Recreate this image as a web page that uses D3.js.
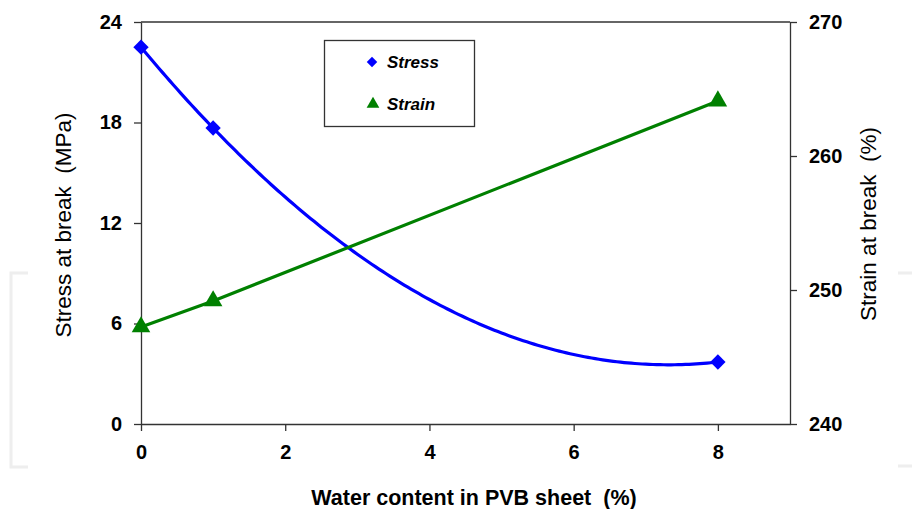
<!DOCTYPE html>
<html><head><meta charset="utf-8">
<script src="https://cdn.jsdelivr.net/npm/d3@7"></script>
<style>body{margin:0;background:#fff}svg{display:block}text{font-family:"Liberation Sans",Arial,sans-serif;white-space:pre}</style>
</head><body><svg id="c" width="912" height="509"></svg>
<script>
const water = [0, 1, 8];
const stress = [22.5, 17.67, 3.70];
const strain = [247.24, 249.18, 264.1];
const xTicks = [0, 2, 4, 6, 8];
const stressTicks = [0, 6, 12, 18, 24];
const strainTicks = [240, 250, 260, 270];
const seriesNames = ["Stress", "Strain"];

const svg = d3.select("#c");
const L = 141, R = 790, T = 22, B = 424;
const x = d3.scaleLinear().domain([0, 9]).range([L, R]);
const yL = d3.scaleLinear().domain([0, 24]).range([B, T]);
const yR = d3.scaleLinear().domain([240, 270]).range([B, T]);

// faint background bracket decoration
const faint = svg.append("g").attr("stroke", "#eeeeee").attr("stroke-width", 3).attr("fill", "none");
faint.append("path").attr("d", "M28,273H11V467H28");
faint.append("path").attr("d", "M898,273H912M898,466H912");

const axisColor = "#333";
function styleAxis(g) {
  g.selectAll("path").attr("stroke", axisColor).attr("stroke-width", 1.3);
  g.selectAll("line").attr("stroke", axisColor).attr("stroke-width", 1.3);
  g.selectAll("text").attr("font-size", 20).attr("font-weight", "bold").attr("fill", "#000");
}
// top border
svg.append("line").attr("x1", L).attr("x2", R).attr("y1", T).attr("y2", T)
  .attr("stroke", axisColor).attr("stroke-width", 1.3);

svg.append("g").attr("transform", `translate(0,${B})`)
  .call(d3.axisBottom(x).tickValues(xTicks).tickSize(7).tickPadding(14).tickSizeOuter(0))
  .call(styleAxis);
svg.append("g").attr("transform", `translate(${L},0)`)
  .call(d3.axisLeft(yL).tickValues(stressTicks).tickSize(7).tickPadding(12).tickSizeOuter(0))
  .call(styleAxis);
svg.append("g").attr("transform", `translate(${R},0)`)
  .call(d3.axisRight(yR).tickValues(strainTicks).tickSize(7).tickPadding(12).tickSizeOuter(0))
  .call(styleAxis);

// axis titles
svg.append("text").attr("x", 474).attr("y", 505).attr("text-anchor", "middle")
  .attr("font-size", 21.5).attr("font-weight", "bold").text("Water content in PVB sheet  (%)");
svg.append("text").attr("transform", "translate(71,225) rotate(-90)").attr("text-anchor", "middle")
  .attr("font-size", 22.5).text("Stress at break  (MPa)");
svg.append("text").attr("transform", "translate(876,224) rotate(-90)").attr("text-anchor", "middle")
  .attr("font-size", 22.5).text("Strain at break  (%)");

// quadratic trendline for stress (least squares fit of the data points)
function polyfit2(xs, ys) {
  const n = xs.length;
  let S = [0,0,0,0,0], Ty = [0,0,0];
  for (let i = 0; i < n; i++) {
    let p = 1;
    for (let k = 0; k < 5; k++) { S[k] += p; p *= xs[i]; }
    Ty[0] += ys[i]; Ty[1] += ys[i]*xs[i]; Ty[2] += ys[i]*xs[i]*xs[i];
  }
  const M = [[S[0],S[1],S[2],Ty[0]],[S[1],S[2],S[3],Ty[1]],[S[2],S[3],S[4],Ty[2]]];
  for (let i = 0; i < 3; i++) {
    let piv = i; for (let r = i+1; r < 3; r++) if (Math.abs(M[r][i]) > Math.abs(M[piv][i])) piv = r;
    [M[i], M[piv]] = [M[piv], M[i]];
    for (let r = 0; r < 3; r++) if (r !== i) {
      const f = M[r][i] / M[i][i];
      for (let c = i; c < 4; c++) M[r][c] -= f * M[i][c];
    }
  }
  const c0 = M[0][3]/M[0][0], c1 = M[1][3]/M[1][1], c2 = M[2][3]/M[2][2];
  return t => c0 + c1*t + c2*t*t;
}
const fitS = polyfit2(water, stress);
const xs = d3.range(0, 8.0001, 0.05);
svg.append("path").datum(xs)
  .attr("d", d3.line().x(t => x(t)).y(t => yL(fitS(t))))
  .attr("fill", "none").attr("stroke", "#0000ff").attr("stroke-width", 3.2);

// strain line
svg.append("path").datum(water.map((w, i) => [w, strain[i]]))
  .attr("d", d3.line().x(d => x(d[0])).y(d => yR(d[1])))
  .attr("fill", "none").attr("stroke", "#008000").attr("stroke-width", 3.2);

// markers
const diamond = d3.symbol().type(d3.symbolDiamond2).size(150);
const tri = d3.symbol().type(d3.symbolTriangle).size(150);
svg.append("g").selectAll("path").data(water.map((w, i) => [w, stress[i]])).join("path")
  .attr("transform", d => `translate(${x(d[0])},${yL(d[1])})`).attr("d", diamond).attr("fill", "#0000ff");
svg.append("g").selectAll("path").data(water.map((w, i) => [w, strain[i]])).join("path")
  .attr("transform", d => `translate(${x(d[0])},${yR(d[1])})`).attr("d", tri).attr("fill", "#008000");

// legend
const lg = svg.append("g");
lg.append("rect").attr("x", 324.5).attr("y", 40.5).attr("width", 150).attr("height", 86)
  .attr("fill", "#fff").attr("stroke", "#333").attr("stroke-width", 1.3);
lg.append("path").attr("transform", "translate(372,62)").attr("d", d3.symbol().type(d3.symbolDiamond2).size(70)).attr("fill", "#0000ff");
lg.append("path").attr("transform", "translate(373,104)").attr("d", d3.symbol().type(d3.symbolTriangle).size(70)).attr("fill", "#008000");
lg.append("text").attr("x", 387).attr("y", 68).attr("font-size", 17).attr("font-weight", "bold").attr("font-style", "italic").text(seriesNames[0]);
lg.append("text").attr("x", 387).attr("y", 110).attr("font-size", 17).attr("font-weight", "bold").attr("font-style", "italic").text(seriesNames[1]);
</script></body></html>
